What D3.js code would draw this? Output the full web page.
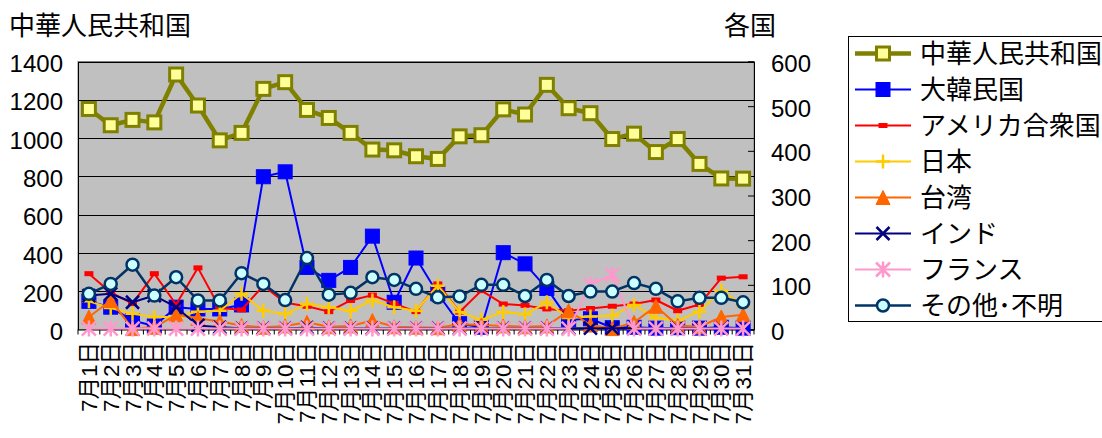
<!DOCTYPE html>
<html>
<head>
<meta charset="utf-8">
<script src="https://cdn.jsdelivr.net/npm/d3@7"></script>
<style>
  html, body { margin: 0; padding: 0; background: #fff; }
  svg { display: block; }
  text { font-family: "Liberation Sans", "Noto Sans CJK JP", sans-serif; fill: #000; }
</style>
</head>
<body>
<svg id="chart" width="1102" height="438"></svg>
<script>
// Daily visitors, July 1–31
const days = d3.range(1, 32).map(d => `7月${d}日`);

// Left axis series
const china = [1152,1067,1095,1082,1332,1170,988,1027,1257,1292,1147,1105,1027,940,936,905,891,1009,1015,1150,1123,1278,1156,1130,995,1023,927,995,865,789,788];

// Right axis series
const korea  = [63,50,20,8,50,46,46,55,342,353,139,110,139,209,61,160,80,13,5,172,147,92,22,24,4,5,3,4,3,5,3];
const usa    = [125,83,58,125,56,138,48,44,98,60,52,40,65,77,58,40,102,39,87,57,54,46,42,47,52,57,66,42,56,115,118];
const japan  = [63,48,35,28,28,40,42,80,42,35,57,50,42,65,50,42,98,39,22,39,34,61,26,29,31,55,26,20,40,87,54];
const taiwan = [28,65,2,5,33,25,18,9,5,8,16,6,8,20,6,5,4,12,10,8,6,8,42,10,2,16,52,9,6,28,33];
const india  = [76,80,61,76,50,9,5,3,3,3,4,3,3,3,3,3,3,3,3,3,3,3,3,3,3,3,3,3,3,3,3];
const france = [2,2,2,2,2,2,2,2,2,2,2,2,2,2,2,2,2,2,2,2,2,2,2,100,123,2,2,2,2,2,2];
const other  = [80,102,145,76,117,65,65,126,102,66,160,78,82,117,111,91,72,74,100,100,75,111,75,85,85,104,91,63,71,71,61];

const leftTicks  = [0,200,400,600,800,1000,1200,1400];
const rightTicks = [0,100,200,300,400,500,600];

const series = [
  { name: "中華人民共和国", values: china,  axis: "left",  color: "#808000", width: 4.5, marker: "square",   fill: "#ffff99", size: 13 },
  { name: "大韓民国",       values: korea,  axis: "right", color: "#0000ff", width: 2,   marker: "squareF",  fill: "#0000ff", size: 14 },
  { name: "アメリカ合衆国", values: usa,    axis: "right", color: "#ff0000", width: 2,   marker: "dash",     fill: "#ff0000", size: 9 },
  { name: "日本",           values: japan,  axis: "right", color: "#ffcc00", width: 2,   marker: "plus",     fill: "none",    size: 14 },
  { name: "台湾",           values: taiwan, axis: "right", color: "#ff6600", width: 2,   marker: "triangle", fill: "#ff6600", size: 14 },
  { name: "インド",         values: india,  axis: "right", color: "#000080", width: 2,   marker: "x",        fill: "none",    size: 13 },
  { name: "フランス",       values: france, axis: "right", color: "#ff99cc", width: 2,   marker: "star",     fill: "none",    size: 14 },
  { name: "その他･不明",    values: other,  axis: "right", color: "#003366", width: 2.5, marker: "circle",   fill: "#ccffff", size: 13 }
];

const svg = d3.select("#chart");
const plot = { left: 78, right: 754, top: 61.5, bottom: 329.5 };

const x = d3.scaleBand().domain(days).range([plot.left, plot.right]);
const yL = d3.scaleLinear().domain([0, 1400]).range([plot.bottom, plot.top]);
const yR = d3.scaleLinear().domain([0, 600]).range([plot.bottom, plot.top]);
const cx = d => x(d) + x.bandwidth() / 2;

// plot background
svg.append("rect")
  .attr("x", plot.left).attr("y", plot.top)
  .attr("width", plot.right - plot.left).attr("height", plot.bottom - plot.top)
  .attr("fill", "#c0c0c0").attr("stroke", "#808080").attr("stroke-width", 1);

// horizontal gridlines from the left axis
svg.append("g")
  .selectAll("line").data(leftTicks.slice(1)).join("line")
  .attr("x1", plot.left).attr("x2", plot.right)
  .attr("y1", d => Math.round(yL(d)) + 0.5).attr("y2", d => Math.round(yL(d)) + 0.5)
  .attr("stroke", "#000").attr("stroke-width", 1);

// left axis
const gL = svg.append("g").attr("transform", `translate(${plot.left},0)`)
  .call(d3.axisLeft(yL).tickValues(leftTicks).tickSize(0).tickPadding(15).tickFormat(d3.format("d")));
gL.select(".domain").attr("stroke", "#000");
gL.selectAll("text").attr("font-size", 24).attr("fill", "#000").attr("dy", "0.42em");

// right axis (ticks drawn toward the plot)
const gR = svg.append("g").attr("transform", `translate(${plot.right},0)`)
  .call(d3.axisRight(yR).tickValues(rightTicks).tickSize(-6).tickPadding(17).tickFormat(d3.format("d")));
gR.select(".domain").attr("stroke", "#000");
gR.selectAll("line").attr("stroke", "#000");
gR.selectAll("text").attr("font-size", 24).attr("fill", "#000").attr("dy", "0.42em");

// bottom axis: boundary ticks and rotated day labels
svg.append("line")
  .attr("x1", plot.left).attr("x2", plot.right)
  .attr("y1", plot.bottom + 0.5).attr("y2", plot.bottom + 0.5).attr("stroke", "#000");
svg.append("g").selectAll("line").data(days.concat(["end"])).join("line")
  .attr("x1", (d, i) => plot.left + i * x.bandwidth()).attr("x2", (d, i) => plot.left + i * x.bandwidth())
  .attr("y1", plot.bottom).attr("y2", plot.bottom + 5)
  .attr("stroke", "#000");
svg.append("g").selectAll("text").data(days).join("text")
  .attr("transform", d => `translate(${cx(d)},342) rotate(-90)`)
  .attr("text-anchor", "end")
  .attr("dy", "0.36em")
  .attr("font-size", 22.5)
  .text(d => d);

// marker drawing
function drawMarker(g, s) {
  const r = s.size / 2;
  switch (s.marker) {
    case "square":
      g.append("rect").attr("x", -r).attr("y", -r).attr("width", s.size).attr("height", s.size)
        .attr("fill", s.fill).attr("stroke", s.color).attr("stroke-width", 3);
      break;
    case "squareF":
      g.append("rect").attr("x", -r).attr("y", -r).attr("width", s.size).attr("height", s.size)
        .attr("fill", s.fill).attr("stroke", s.color).attr("stroke-width", 1);
      break;
    case "dash":
      g.append("rect").attr("x", -r).attr("y", -2.5).attr("width", s.size).attr("height", 5)
        .attr("fill", s.fill);
      break;
    case "plus":
      g.append("path").attr("d", `M${-r},0H${r}M0,${-r}V${r}`)
        .attr("stroke", s.color).attr("stroke-width", 2.5).attr("fill", "none");
      break;
    case "triangle":
      g.append("path").attr("d", `M0,${-r}L${r},${r}L${-r},${r}Z`)
        .attr("fill", s.fill).attr("stroke", s.color).attr("stroke-width", 1);
      break;
    case "x":
      g.append("path").attr("d", `M${-r},${-r}L${r},${r}M${-r},${r}L${r},${-r}`)
        .attr("stroke", s.color).attr("stroke-width", 2.5).attr("fill", "none");
      break;
    case "star":
      g.append("path").attr("d", `M${-r},${-r}L${r},${r}M${-r},${r}L${r},${-r}M0,${-r - 1}V${r + 1}`)
        .attr("stroke", s.color).attr("stroke-width", 2.5).attr("fill", "none");
      break;
    case "circle":
      g.append("circle").attr("r", r - 0.5)
        .attr("fill", s.fill).attr("stroke", s.color).attr("stroke-width", 2.5);
      break;
  }
}

// series lines and markers
series.forEach(s => {
  const y = s.axis === "left" ? yL : yR;
  const line = d3.line().x((v, i) => cx(days[i])).y(v => y(v));
  const g = svg.append("g");
  g.append("path").datum(s.values)
    .attr("d", line).attr("fill", "none")
    .attr("stroke", s.color).attr("stroke-width", s.width).attr("stroke-linejoin", "round");
  g.selectAll("g.m").data(s.values).join("g").attr("class", "m")
    .attr("transform", (v, i) => `translate(${cx(days[i])},${y(v)})`)
    .each(function () { drawMarker(d3.select(this), s); });
});

// axis titles
svg.append("text").attr("x", 9).attr("y", 35).attr("font-size", 26).text("中華人民共和国");
svg.append("text").attr("x", 724).attr("y", 35).attr("font-size", 26).text("各国");

// legend
const legend = svg.append("g");
legend.append("rect").attr("x", 848.5).attr("y", 36.5).attr("width", 270).attr("height", 285)
  .attr("fill", "#fff").attr("stroke", "#000").attr("stroke-width", 1);
series.forEach((s, i) => {
  const yy = 53.5 + i * 36;
  const g = legend.append("g").attr("transform", `translate(0,${yy})`);
  g.append("line").attr("x1", 855).attr("x2", 911).attr("y1", 0).attr("y2", 0)
    .attr("stroke", s.color).attr("stroke-width", s.width);
  const mg = g.append("g").attr("transform", "translate(883,0)");
  drawMarker(mg, s);
  g.append("text").attr("x", 920).attr("y", 0).attr("dy", "0.36em").attr("font-size", 26).text(s.name);
});
</script>
</body>
</html>
